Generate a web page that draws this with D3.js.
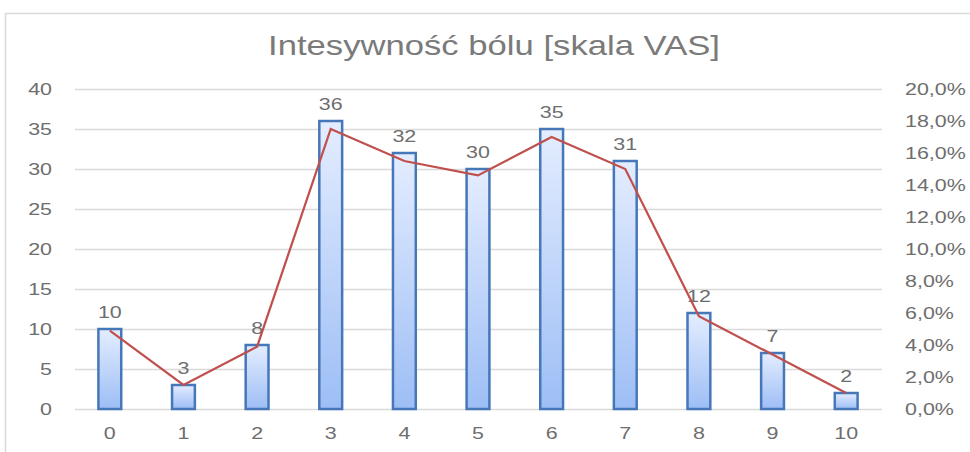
<!DOCTYPE html>
<html>
<head>
<meta charset="utf-8">
<script src="https://cdn.jsdelivr.net/npm/d3@7"></script>
<style>
  body { margin: 0; background: #fff; }
  svg text { font-family: "Liberation Sans", sans-serif; fill: #6e6e6e; }
</style>
</head>
<body>
<script>
// dane z wykresu
var kategorie = ["0", "1", "2", "3", "4", "5", "6", "7", "8", "9", "10"]
var liczby = [10, 3, 8, 36, 32, 30, 35, 31, 12, 7, 2]
var procenty = [4.9, 1.5, 3.9, 17.5, 15.5, 14.6, 17.0, 15.0, 5.8, 3.4, 1.0]
var ticksLewe = [0, 5, 10, 15, 20, 25, 30, 35, 40]
var ticksPrawe = [0, 2, 4, 6, 8, 10, 12, 14, 16, 18, 20]
var tytul = "Intesywność bólu [skala VAS]"

var width = 970, height = 452
var margin = { top: 89, bottom: 43, left: 73, right: 87 }
var estirar = 1.3 // el texto del original esta ensanchado

var svg = d3.select("body").append("svg")
  .attr("width", width)
  .attr("height", height)

// ramka wykresu
svg.append("rect")
  .attr("x", 5.5).attr("y", 13.5)
  .attr("width", 980).attr("height", 460)
  .attr("fill", "none").attr("stroke", "#d9d9d9").attr("stroke-width", 1.5)

var defs = svg.append("defs")
var grad = defs.append("linearGradient")
  .attr("id", "gradSlupek").attr("x1", 0).attr("y1", 0).attr("x2", 0).attr("y2", 1)
grad.append("stop").attr("offset", "0%").attr("stop-color", "#e4edff")
grad.append("stop").attr("offset", "100%").attr("stop-color", "#9dbef5")

var x = d3.scaleBand()
  .domain(kategorie)
  .range([margin.left, width - margin.right])
  .paddingInner(0.69).paddingOuter(0.345)

var yL = d3.scaleLinear().domain([0, 40]).range([height - margin.bottom, margin.top])
var yP = d3.scaleLinear().domain([0, 20]).range([height - margin.bottom, margin.top])

// linie siatki
svg.append("g")
  .selectAll("line")
  .data(ticksLewe)
  .enter().append("line")
  .attr("x1", margin.left + 2).attr("x2", width - margin.right - 1)
  .attr("y1", d => Math.round(yL(d)) + 0.5).attr("y2", d => Math.round(yL(d)) + 0.5)
  .attr("stroke", "#d9d9d9").attr("stroke-width", 1.5)

function estiloTexto(g) {
  g.select(".domain").remove()
  g.attr("font-family", null).attr("font-size", null)
  g.selectAll("text")
    .style("fill", "#6e6e6e")
    .style("font-size", "16.5px")
}

// os lewa
var ejeL = d3.axisLeft(yL).tickValues(ticksLewe).tickSize(0).tickPadding(0)
svg.append("g")
  .attr("transform", "translate(52,0) scale(" + estirar + ",1)")
  .call(ejeL)
  .call(estiloTexto)

// os prawa
var ejeP = d3.axisRight(yP).tickValues(ticksPrawe).tickSize(0).tickPadding(0)
  .tickFormat(d => d3.format(".1f")(d).replace(".", ",") + "%")
svg.append("g")
  .attr("transform", "translate(905,0) scale(" + estirar + ",1)")
  .call(ejeP)
  .call(estiloTexto)

// os X
var ejeX = d3.axisBottom(x).tickSize(0).tickPadding(18)
svg.append("g")
  .attr("transform", "translate(0," + (height - margin.bottom) + ")")
  .call(ejeX)
  .call(estiloTexto)
  .selectAll("text").attr("transform", "scale(" + estirar + ",1)")

// slupki
svg.append("g")
  .selectAll("rect")
  .data(liczby)
  .enter().append("rect")
  .attr("x", (d, i) => x(kategorie[i]))
  .attr("y", d => yL(d))
  .attr("width", x.bandwidth())
  .attr("height", d => yL(0) - yL(d))
  .attr("fill", "url(#gradSlupek)")
  .attr("stroke", "#4677b8").attr("stroke-width", 2.5)

// etykiety
svg.append("g")
  .selectAll("text")
  .data(liczby)
  .enter().append("text")
  .attr("transform", (d, i) => "translate(" + (x(kategorie[i]) + x.bandwidth() / 2) + "," + (yL(d) - 11) + ") scale(" + estirar + ",1)")
  .attr("text-anchor", "middle")
  .style("font-size", "16.5px")
  .text(d => d)

// linia procentowa
var linia = d3.line()
  .x((d, i) => x(kategorie[i]) + x.bandwidth() / 2)
  .y(d => yP(d))
svg.append("path")
  .datum(procenty)
  .attr("d", linia)
  .attr("fill", "none")
  .attr("stroke", "#c0504d").attr("stroke-width", 2.25)

// tytul
svg.append("text")
  .attr("x", 494).attr("y", 55)
  .attr("text-anchor", "middle")
  .style("font-size", "28px")
  .style("font-family", "'Liberation Sans Narrow', 'Liberation Sans', sans-serif")
  .style("fill", "#7a7a7a")
  .attr("textLength", 452).attr("lengthAdjust", "spacingAndGlyphs")
  .text(tytul)
</script>
</body>
</html>
